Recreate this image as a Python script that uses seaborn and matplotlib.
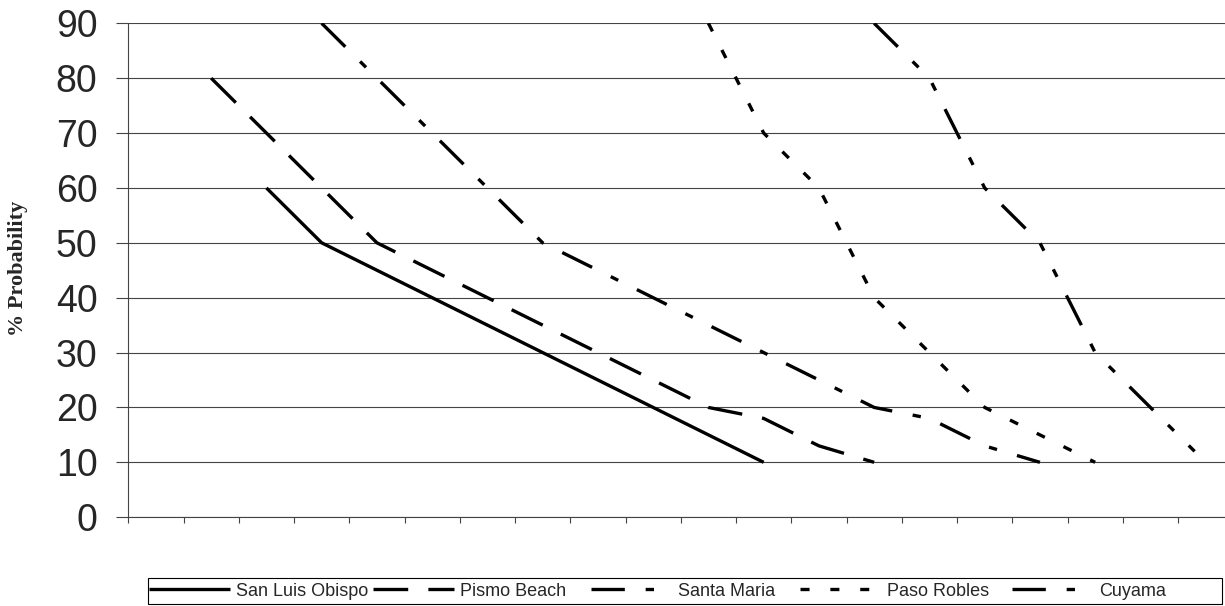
import pandas as pd
import seaborn as sns
import matplotlib
matplotlib.use("Agg")
import matplotlib.pyplot as plt
from matplotlib.lines import Line2D
from matplotlib.patches import Rectangle

# Category positions on the (unlabelled) x axis and % probability values
slo_x = list(range(2, 12))
slo_y = [60, 50, 45, 40, 35, 30, 25, 20, 15, 10]

pismo_x = list(range(1, 14))
pismo_y = [80, 70, 60, 50, 45, 40, 35, 30, 25, 20, 18, 13, 10]

santa_maria_x = list(range(3, 17))
santa_maria_y = [90, 80, 70, 60, 50, 45, 40, 35, 30, 25, 20, 18, 13, 10]

paso_x = list(range(10, 18))
paso_y = [90, 70, 60, 40, 30, 20, 15, 10]

cuyama_x = list(range(13, 20))
cuyama_y = [90, 80, 60, 50, 30, 20, 10]

sites = ["San Luis Obispo", "Pismo Beach", "Santa Maria", "Paso Robles", "Cuyama"]
n_categories = 20
y_ticks = [0, 10, 20, 30, 40, 50, 60, 70, 80, 90]

# Build one long-form table
frames = []
for site, xs, ys in zip(sites,
                        [slo_x, pismo_x, santa_maria_x, paso_x, cuyama_x],
                        [slo_y, pismo_y, santa_maria_y, paso_y, cuyama_y]):
    frames.append(pd.DataFrame({"step": xs, "prob": ys, "site": site}))
df = pd.concat(frames, ignore_index=True)

# Dash patterns in points (scale_dashes off)
dash_styles = {
    "San Luis Obispo": "",
    "Pismo Beach": (25, 14.5),
    "Santa Maria": (24, 15, 6, 15),
    "Paso Robles": (6.5, 15),
    "Cuyama": (24, 15, 6, 15, 6, 15),
}

sns.set_style("white")
plt.rcParams["font.family"] = ["Liberation Sans", "DejaVu Sans"]
plt.rcParams["lines.scale_dashes"] = False

W, H = 1225, 606
fig = plt.figure(figsize=(W / 100, H / 100), dpi=100)
ax = fig.add_axes([128.3 / W, 1 - 517.2 / H, 1105 / W, 493.9 / H])

sns.lineplot(
    data=df, x="step", y="prob", style="site", style_order=sites,
    dashes=dash_styles, color="black", linewidth=2.4, estimator=None,
    sort=False, legend=False, ax=ax, dash_capstyle="butt",
    solid_capstyle="butt",
)

# Axes styling
ax.set_xlim(-0.5, n_categories - 0.5)
ax.set_ylim(0, 90)
ax.set_xticks([i - 0.5 for i in range(n_categories + 1)])
ax.set_xticklabels([])
ax.set_yticks(y_ticks)
ax.set_yticklabels([str(v) for v in y_ticks], fontsize=27)
ax.set_xlabel("")
ax.set_ylabel("")
ax.tick_params(axis="y", direction="out", length=8.6, width=0.8, color="#444444", pad=13.5, left=True)
ax.tick_params(axis="x", direction="out", length=4.3, width=0.8, color="#444444", bottom=True)

ax.yaxis.grid(True, color="#444444", linewidth=0.8)
ax.xaxis.grid(False)
ax.set_axisbelow(True)
for side in ["top", "right"]:
    ax.spines[side].set_visible(False)
for side in ["left", "bottom"]:
    ax.spines[side].set_color("#444444")
    ax.spines[side].set_linewidth(0.8)

fig.text(18 / W, 1 - 268 / H, "% Probability", rotation=90, ha="center", va="center",
         family=["Liberation Serif", "DejaVu Serif"], weight="bold", fontsize=16)

# Legend: equal-width entries, one small legend per entry
entry_left = [149, 373, 591, 800, 1012]
for site, x0 in zip(sites, entry_left):
    if dash_styles[site]:
        h = Line2D([], [], color="black", linewidth=2.4, dashes=dash_styles[site], dash_capstyle="butt")
    else:
        h = Line2D([], [], color="black", linewidth=2.4, linestyle="-", solid_capstyle="butt")
    fig.legend([h], [site], loc="center left", bbox_to_anchor=(x0 / W, 1 - 591 / H),
               frameon=False, fontsize=13, handlelength=4.5, handletextpad=0.3,
               borderpad=0.0, borderaxespad=0)
fig.patches.append(Rectangle((148 / W, 1 - 604 / H), (1222 - 148) / W, 26 / H,
                             transform=fig.transFigure, fill=False, edgecolor="black", linewidth=0.8))

plt.savefig("out.png", dpi=100)
plt.close()
